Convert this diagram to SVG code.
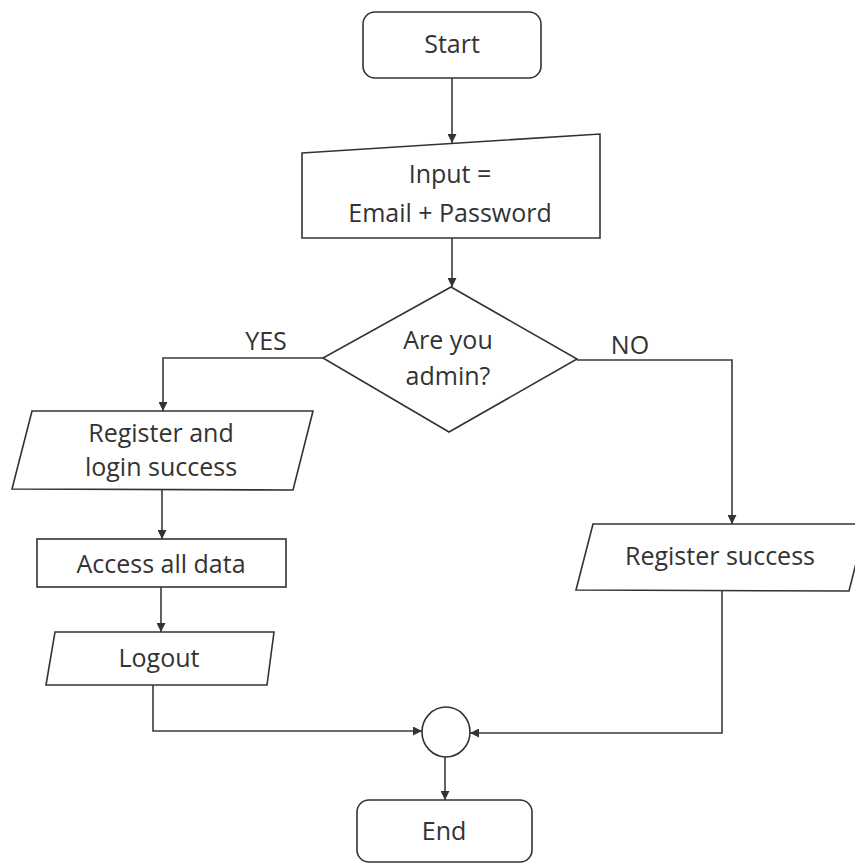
<svg xmlns="http://www.w3.org/2000/svg" width="855" height="865" viewBox="0 0 855 865">
  <style>
    .shape { fill: #ffffff; stroke: #333333; stroke-width: 1.6; }
    .edge { fill: none; stroke: #3a3a3a; stroke-width: 1.6; }
    .label { font-family: "Open Sans", "Noto Sans", "Liberation Sans", sans-serif; font-size: 25px; fill: #333333; text-anchor: middle; }
  </style>
  <defs>
    <marker id="arrow" viewBox="0 0 10 10" refX="10" refY="5" markerWidth="9" markerHeight="9" markerUnits="userSpaceOnUse" orient="auto">
      <path d="M0,0 L10,5 L0,10 z" fill="#333333"/>
    </marker>
  </defs>
  <rect width="855" height="865" fill="#ffffff"/>

  <!-- connectors -->
  <g id="connectors">
    <line class="edge" x1="452" y1="78" x2="452" y2="143" marker-end="url(#arrow)"/>
    <line class="edge" x1="452" y1="238" x2="452" y2="287" marker-end="url(#arrow)"/>
    <polyline class="edge" points="323,358 163,358 163,411" marker-end="url(#arrow)"/>
    <polyline class="edge" points="577,360 732,360 732,524" marker-end="url(#arrow)"/>
    <line class="edge" x1="162" y1="490" x2="162" y2="539" marker-end="url(#arrow)"/>
    <line class="edge" x1="161" y1="587" x2="161" y2="632" marker-end="url(#arrow)"/>
    <polyline class="edge" points="153,685 153,731 422,731" marker-end="url(#arrow)"/>
    <polyline class="edge" points="722,590 722,733 470,733" marker-end="url(#arrow)"/>
    <line class="edge" x1="445" y1="757" x2="445" y2="800" marker-end="url(#arrow)"/>
    <text class="label" x="266" y="350">YES</text>
    <text class="label" x="630" y="354">NO</text>
  </g>

  <!-- nodes -->
  <g id="start">
    <rect class="shape" x="363" y="12" width="178" height="66" rx="12"/>
    <text class="label" x="452" y="53">Start</text>
  </g>

  <g id="input">
    <polygon class="shape" points="302,153 600,134 600,238 302,238"/>
    <text class="label" x="450" y="183">Input =</text>
    <text class="label" x="450" y="222">Email + Password</text>
  </g>

  <g id="decision">
    <polygon class="shape" points="451,287 577,359 449,432 323,358"/>
    <text class="label" x="448" y="349">Are you</text>
    <text class="label" x="448" y="385">admin?</text>
  </g>

  <g id="register-login">
    <polygon class="shape" points="32,411 313,411 293,490 12,489"/>
    <text class="label" x="161" y="442">Register and</text>
    <text class="label" x="161" y="476">login success</text>
  </g>

  <g id="access-data">
    <rect class="shape" x="37" y="539" width="249" height="48"/>
    <text class="label" x="161" y="573">Access all data</text>
  </g>

  <g id="logout">
    <polygon class="shape" points="55,632 274,632 267,685 46,685"/>
    <text class="label" x="159" y="667">Logout</text>
  </g>

  <g id="register-success">
    <polygon class="shape" points="593,524 866,524 849,591 576,590"/>
    <text class="label" x="720" y="565">Register success</text>
  </g>

  <g id="merge">
    <ellipse class="shape" cx="446" cy="732" rx="24" ry="25"/>
  </g>

  <g id="end">
    <rect class="shape" x="357" y="800" width="175" height="62" rx="12"/>
    <text class="label" x="444" y="840">End</text>
  </g>
</svg>
